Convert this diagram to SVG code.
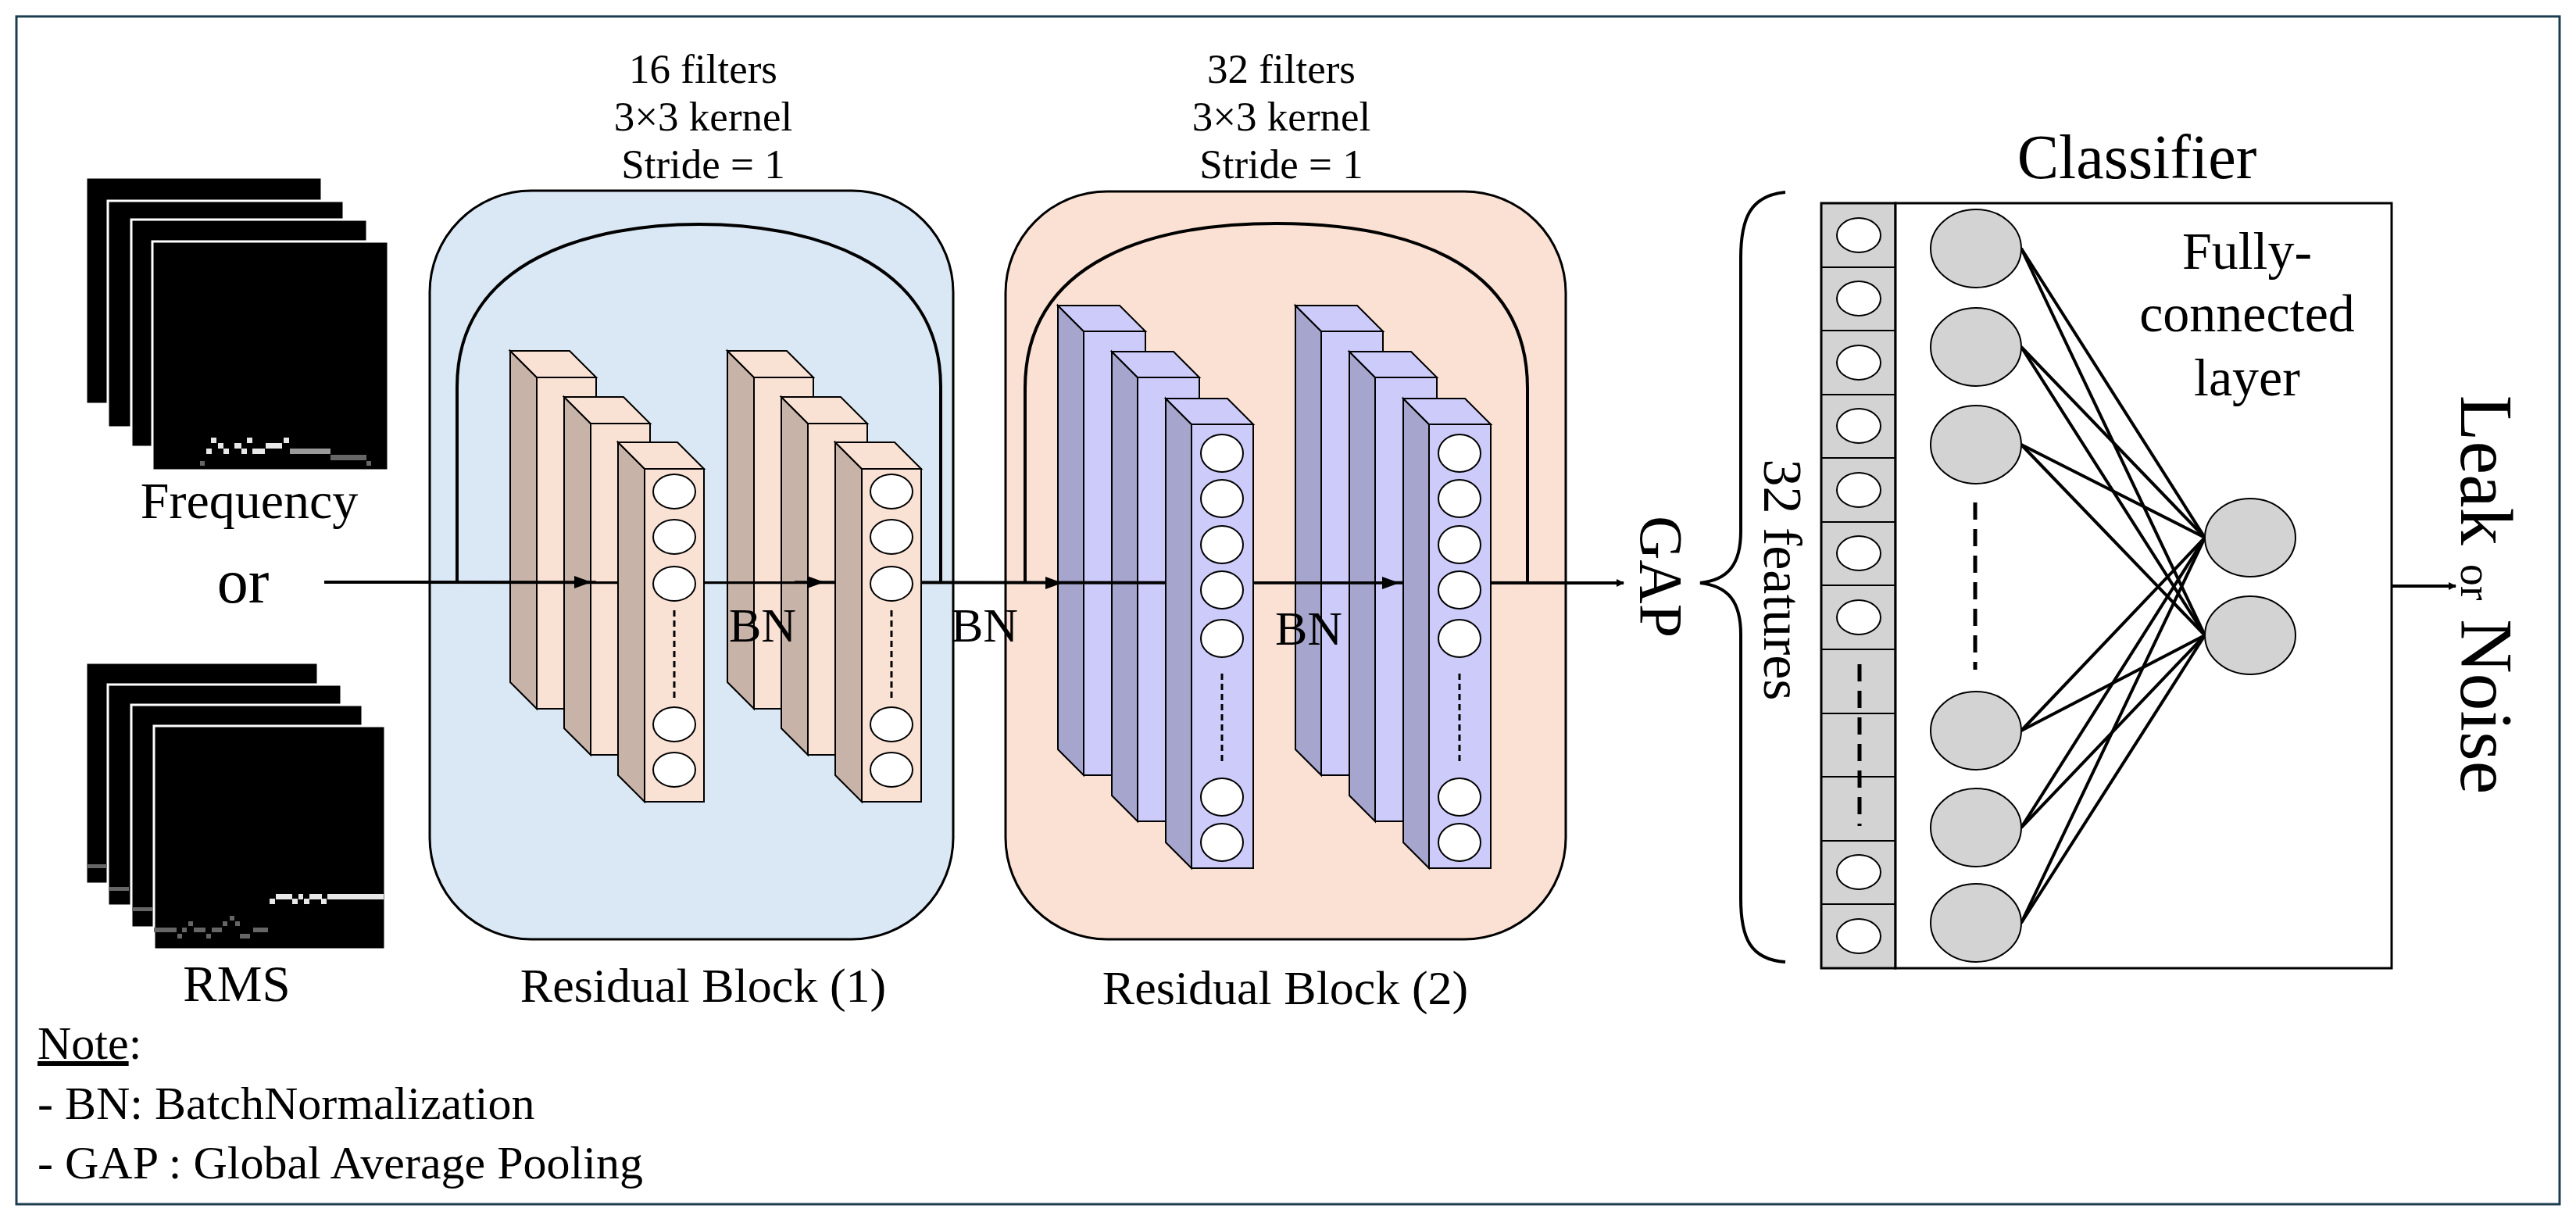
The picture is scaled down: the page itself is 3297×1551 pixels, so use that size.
<svg xmlns="http://www.w3.org/2000/svg" width="3297" height="1551" viewBox="0 0 3297 1551">
<style>
text{font-family:"Liberation Serif","Times New Roman",serif;fill:#000}
.ln{stroke:#000;stroke-width:4;fill:none}
.s{stroke:#000;stroke-width:2}
.pf1{fill:#f9e1d4}.ps1{fill:#c8b3a9}
.pf2{fill:#cccbfa}.ps2{fill:#a6a5cd}
.cell{fill:#fff;stroke:#000;stroke-width:2}
.nd{fill:#d3d3d3;stroke:#000;stroke-width:2}
.bg{fill:#000;stroke:#fff;stroke-width:3}
.hi{fill:#e8e8e8}.md{fill:#9a9a9a}.lo{fill:#666}
.tt{font-size:53px;text-anchor:middle}
</style>
<defs>
<marker id="ah" markerWidth="10" markerHeight="10" refX="9" refY="5" orient="auto" markerUnits="userSpaceOnUse" viewBox="0 0 10 10"><path d="M0,0 L10,5 L0,10 z" fill="#000"/></marker>
</defs>
<rect x="21" y="21" width="3255" height="1520" fill="#fff" stroke="#1c3d4f" stroke-width="3"/>

<g id="freq">
<rect class="bg" x="110" y="227" width="302" height="290"/>
<rect class="bg" x="138" y="257" width="302" height="290"/>
<rect class="bg" x="168" y="281" width="302" height="291"/>
<rect class="bg" x="195" y="309" width="302" height="293"/>
<g class="hi"><rect x="270" y="560" width="7" height="7"/><rect x="316" y="560" width="7" height="7"/><rect x="363" y="560" width="7" height="7"/><rect x="279" y="567" width="7" height="7"/><rect x="300" y="567" width="9" height="7"/><rect x="340" y="567" width="21" height="7"/><rect x="264" y="574" width="7" height="7"/><rect x="286" y="574" width="7" height="7"/><rect x="309" y="574" width="7" height="7"/><rect x="323" y="574" width="16" height="7"/></g>
<rect class="md" x="371" y="574" width="52" height="7"/>
<rect class="lo" x="423" y="582" width="46" height="7"/>
<rect class="lo" x="256" y="590" width="6" height="6"/><rect class="lo" x="469" y="590" width="6" height="6"/>
<text x="319" y="663" font-size="66" text-anchor="middle">Frequency</text>
</g>
<text x="311" y="771" font-size="80" text-anchor="middle">or</text>
<g id="rms">
<rect class="bg" x="110" y="848" width="297" height="283"/>
<rect class="bg" x="138" y="876" width="299" height="283"/>
<rect class="bg" x="168" y="902" width="296" height="285"/>
<rect class="bg" x="197" y="929" width="296" height="286"/>
<rect class="lo" x="111" y="1106" width="26" height="5"/><rect class="lo" x="139" y="1135" width="26" height="5"/><rect class="lo" x="169" y="1161" width="26" height="5"/>
<g class="hi"><rect x="345" y="1150" width="7" height="7"/><rect x="353" y="1144" width="21" height="7"/><rect x="374" y="1150" width="7" height="7"/><rect x="382" y="1144" width="6" height="7"/><rect x="389" y="1150" width="7" height="7"/><rect x="396" y="1144" width="16" height="7"/><rect x="411" y="1150" width="7" height="7"/><rect x="419" y="1144" width="72" height="7"/></g>
<g class="lo"><rect x="197" y="1187" width="29" height="6"/><rect x="227" y="1195" width="6" height="6"/><rect x="233" y="1187" width="6" height="6"/><rect x="241" y="1179" width="6" height="6"/><rect x="248" y="1187" width="15" height="6"/><rect x="264" y="1195" width="6" height="6"/><rect x="271" y="1187" width="13" height="6"/><rect x="285" y="1179" width="6" height="6"/><rect x="294" y="1172" width="6" height="6"/><rect x="301" y="1179" width="6" height="6"/><rect x="307" y="1195" width="13" height="6"/><rect x="324" y="1187" width="19" height="6"/></g>
<text x="303" y="1281" font-size="65" text-anchor="middle">RMS</text>
</g>

<g id="block1">
<rect x="550" y="244" width="670" height="958" rx="130" ry="130" fill="#dae8f5" stroke="#000" stroke-width="3"/>
<text class="tt" x="900" y="106">16 filters</text>
<text class="tt" x="900" y="167">3×3 kernel</text>
<text class="tt" x="900" y="228">Stride = 1</text>
<text x="900" y="1282" font-size="62" text-anchor="middle">Residual Block (1)</text>
</g>
<g id="block2">
<rect x="1287" y="245" width="717" height="957" rx="130" ry="130" fill="#fbe1d3" stroke="#000" stroke-width="3"/>
<text class="tt" x="1640" y="106">32 filters</text>
<text class="tt" x="1640" y="167">3×3 kernel</text>
<text class="tt" x="1640" y="228">Stride = 1</text>
<text x="1645" y="1285" font-size="62" text-anchor="middle">Residual Block (2)</text>
</g>

<g id="b1g1" class="s">
<polygon class="ps1" points="653,449 687,483 687,907 653,873"/><polygon class="pf1" points="653,449 729,449 763,483 687,483"/><rect class="pf1" x="687" y="483" width="76" height="424"/>
<polygon class="ps1" points="722,508 756,542 756,966 722,932"/><polygon class="pf1" points="722,508 798,508 832,542 756,542"/><rect class="pf1" x="756" y="542" width="76" height="424"/>
</g>
<g id="b1g2" class="s">
<polygon class="ps1" points="931,449 965,483 965,907 931,873"/><polygon class="pf1" points="931,449 1007,449 1041,483 965,483"/><rect class="pf1" x="965" y="483" width="76" height="424"/>
<polygon class="ps1" points="1000,508 1034,542 1034,966 1000,932"/><polygon class="pf1" points="1000,508 1076,508 1110,542 1034,542"/><rect class="pf1" x="1034" y="542" width="76" height="424"/>
</g>
<g id="b2g1" class="s">
<polygon class="ps2" points="1354,391 1387,424 1387,992 1354,959"/><polygon class="pf2" points="1354,391 1433,391 1466,424 1387,424"/><rect class="pf2" x="1387" y="424" width="79" height="568"/>
<polygon class="ps2" points="1423,450 1456,483 1456,1051 1423,1018"/><polygon class="pf2" points="1423,450 1502,450 1535,483 1456,483"/><rect class="pf2" x="1456" y="483" width="79" height="568"/>
</g>
<g id="b2g2" class="s">
<polygon class="ps2" points="1658,391 1691,424 1691,992 1658,959"/><polygon class="pf2" points="1658,391 1737,391 1770,424 1691,424"/><rect class="pf2" x="1691" y="424" width="79" height="568"/>
<polygon class="ps2" points="1727,450 1760,483 1760,1051 1727,1018"/><polygon class="pf2" points="1727,450 1806,450 1839,483 1760,483"/><rect class="pf2" x="1760" y="483" width="79" height="568"/>
</g>

<g id="connectors">
<line class="ln" x1="415" y1="745" x2="2078" y2="746" marker-end="url(#ah)"/>
<path class="ln" d="M585,745 L585,495 C585,330 760,287 895,287 C1030,287 1204,330 1204,495 L1204,745"/>
<path class="ln" d="M1312,746 L1312,497 C1312,330 1480,286 1634,286 C1790,286 1955,330 1955,497 L1955,746"/>
<polygon points="735,737 757,745 735,753" fill="#000"/>
<polygon points="1033,737 1055,745 1033,753" fill="#000"/>
<polygon points="1338,738 1360,746 1338,754" fill="#000"/>
<polygon points="1769,738 1791,746 1769,754" fill="#000"/>
<line class="ln" x1="2978" y1="750" x2="3143" y2="750" marker-end="url(#ah)"/>
<path d="M2285,246 C2240,250 2228,280 2228,330 L2228,680 C2228,722 2212,742 2176,746 C2212,750 2228,770 2228,812 L2228,1150 C2228,1200 2240,1228 2285,1231" fill="none" stroke="#000" stroke-width="4"/>
</g>

<g id="b1p3" class="s">
<polygon class="ps1" points="791,566 825,600 825,1026 791,992"/><polygon class="pf1" points="791,566 867,566 901,600 825,600"/><rect class="pf1" x="825" y="600" width="76" height="426"/>
<g class="cell"><ellipse cx="863" cy="629" rx="27" ry="22"/><ellipse cx="863" cy="687" rx="27" ry="22"/><ellipse cx="863" cy="747" rx="27" ry="22"/><ellipse cx="863" cy="927" rx="27" ry="22"/><ellipse cx="863" cy="985" rx="27" ry="22"/></g>
<line x1="863" y1="781" x2="863" y2="895" stroke="#000" stroke-width="3" stroke-dasharray="8,5"/>
</g>
<g id="b1p6" class="s">
<polygon class="ps1" points="1069,566 1103,600 1103,1026 1069,992"/><polygon class="pf1" points="1069,566 1145,566 1179,600 1103,600"/><rect class="pf1" x="1103" y="600" width="76" height="426"/>
<g class="cell"><ellipse cx="1141" cy="629" rx="27" ry="22"/><ellipse cx="1141" cy="687" rx="27" ry="22"/><ellipse cx="1141" cy="747" rx="27" ry="22"/><ellipse cx="1141" cy="927" rx="27" ry="22"/><ellipse cx="1141" cy="985" rx="27" ry="22"/></g>
<line x1="1141" y1="781" x2="1141" y2="895" stroke="#000" stroke-width="3" stroke-dasharray="8,5"/>
</g>
<g id="b2p3" class="s">
<polygon class="ps2" points="1492,510 1525,543 1525,1111 1492,1078"/><polygon class="pf2" points="1492,510 1571,510 1604,543 1525,543"/><rect class="pf2" x="1525" y="543" width="79" height="568"/>
<g class="cell"><ellipse cx="1564" cy="580" rx="27" ry="24"/><ellipse cx="1564" cy="638" rx="27" ry="24"/><ellipse cx="1564" cy="697" rx="27" ry="24"/><ellipse cx="1564" cy="755" rx="27" ry="24"/><ellipse cx="1564" cy="817" rx="27" ry="24"/><ellipse cx="1564" cy="1020" rx="27" ry="24"/><ellipse cx="1564" cy="1078" rx="27" ry="24"/></g>
<line x1="1564" y1="862" x2="1564" y2="978" stroke="#000" stroke-width="3" stroke-dasharray="8,5"/>
</g>
<g id="b2p6" class="s">
<polygon class="ps2" points="1796,510 1829,543 1829,1111 1796,1078"/><polygon class="pf2" points="1796,510 1875,510 1908,543 1829,543"/><rect class="pf2" x="1829" y="543" width="79" height="568"/>
<g class="cell"><ellipse cx="1868" cy="580" rx="27" ry="24"/><ellipse cx="1868" cy="638" rx="27" ry="24"/><ellipse cx="1868" cy="697" rx="27" ry="24"/><ellipse cx="1868" cy="755" rx="27" ry="24"/><ellipse cx="1868" cy="817" rx="27" ry="24"/><ellipse cx="1868" cy="1020" rx="27" ry="24"/><ellipse cx="1868" cy="1078" rx="27" ry="24"/></g>
<line x1="1868" y1="862" x2="1868" y2="978" stroke="#000" stroke-width="3" stroke-dasharray="8,5"/>
</g>

<text x="976" y="821" font-size="62" text-anchor="middle">BN</text>
<text x="1260" y="821" font-size="62" text-anchor="middle">BN</text>
<text x="1675" y="825" font-size="62" text-anchor="middle">BN</text>
<text font-size="78" text-anchor="middle" transform="translate(2100,738) rotate(90)">GAP</text>
<text font-size="70" text-anchor="middle" transform="translate(2258,742) rotate(90)">32 features</text>

<g id="features">
<rect x="2331" y="260" width="95" height="979" fill="#d3d3d3" stroke="#000" stroke-width="3"/>
<g stroke="#000" stroke-width="2"><line x1="2331" y1="342" x2="2426" y2="342"/><line x1="2331" y1="423" x2="2426" y2="423"/><line x1="2331" y1="505" x2="2426" y2="505"/><line x1="2331" y1="586" x2="2426" y2="586"/><line x1="2331" y1="668" x2="2426" y2="668"/><line x1="2331" y1="749" x2="2426" y2="749"/><line x1="2331" y1="831" x2="2426" y2="831"/><line x1="2331" y1="913" x2="2426" y2="913"/><line x1="2331" y1="994" x2="2426" y2="994"/><line x1="2331" y1="1076" x2="2426" y2="1076"/><line x1="2331" y1="1157" x2="2426" y2="1157"/></g>
<g class="cell"><ellipse cx="2379" cy="301" rx="28" ry="22"/><ellipse cx="2379" cy="382" rx="28" ry="22"/><ellipse cx="2379" cy="464" rx="28" ry="22"/><ellipse cx="2379" cy="545" rx="28" ry="22"/><ellipse cx="2379" cy="627" rx="28" ry="22"/><ellipse cx="2379" cy="708" rx="28" ry="22"/><ellipse cx="2379" cy="790" rx="28" ry="22"/><ellipse cx="2379" cy="1116" rx="28" ry="22"/><ellipse cx="2379" cy="1198" rx="28" ry="22"/></g>
<line x1="2380" y1="850" x2="2380" y2="1057" stroke="#000" stroke-width="5" stroke-dasharray="22,12"/>
</g>

<g id="classifier">
<text x="2735" y="228" font-size="80" text-anchor="middle">Classifier</text>
<rect x="2426" y="260" width="635" height="979" fill="#fff" stroke="#000" stroke-width="3"/>
<g stroke="#000" stroke-width="4">
<line x1="2587" y1="318" x2="2822" y2="688"/><line x1="2587" y1="318" x2="2822" y2="813"/>
<line x1="2587" y1="444" x2="2822" y2="688"/><line x1="2587" y1="444" x2="2822" y2="813"/>
<line x1="2587" y1="569" x2="2822" y2="688"/><line x1="2587" y1="569" x2="2822" y2="813"/>
<line x1="2587" y1="935" x2="2822" y2="688"/><line x1="2587" y1="935" x2="2822" y2="813"/>
<line x1="2587" y1="1059" x2="2822" y2="688"/><line x1="2587" y1="1059" x2="2822" y2="813"/>
<line x1="2587" y1="1181" x2="2822" y2="688"/><line x1="2587" y1="1181" x2="2822" y2="813"/>
</g>
<g class="nd"><ellipse cx="2529" cy="318" rx="58" ry="50"/><ellipse cx="2529" cy="444" rx="58" ry="50"/><ellipse cx="2529" cy="569" rx="58" ry="50"/><ellipse cx="2529" cy="935" rx="58" ry="50"/><ellipse cx="2529" cy="1059" rx="58" ry="50"/><ellipse cx="2529" cy="1181" rx="58" ry="50"/><ellipse cx="2880" cy="688" rx="58" ry="50"/><ellipse cx="2880" cy="813" rx="58" ry="50"/></g>
<line x1="2528" y1="643" x2="2528" y2="857" stroke="#000" stroke-width="5" stroke-dasharray="22,12"/>
<text x="2876" y="344" font-size="68" text-anchor="middle">Fully-</text>
<text x="2876" y="424" font-size="68" text-anchor="middle">connected</text>
<text x="2876" y="506" font-size="68" text-anchor="middle">layer</text>
</g>
<text transform="translate(3150,761) rotate(90)" font-size="96" text-anchor="middle">Leak <tspan font-size="56">or</tspan> Noise</text>

<g id="note" font-size="60">
<text x="48" y="1355"><tspan text-decoration="underline">Note</tspan>:</text>
<text x="48" y="1432">- BN: BatchNormalization</text>
<text x="48" y="1508">- GAP : Global Average Pooling</text>
</g>
</svg>
